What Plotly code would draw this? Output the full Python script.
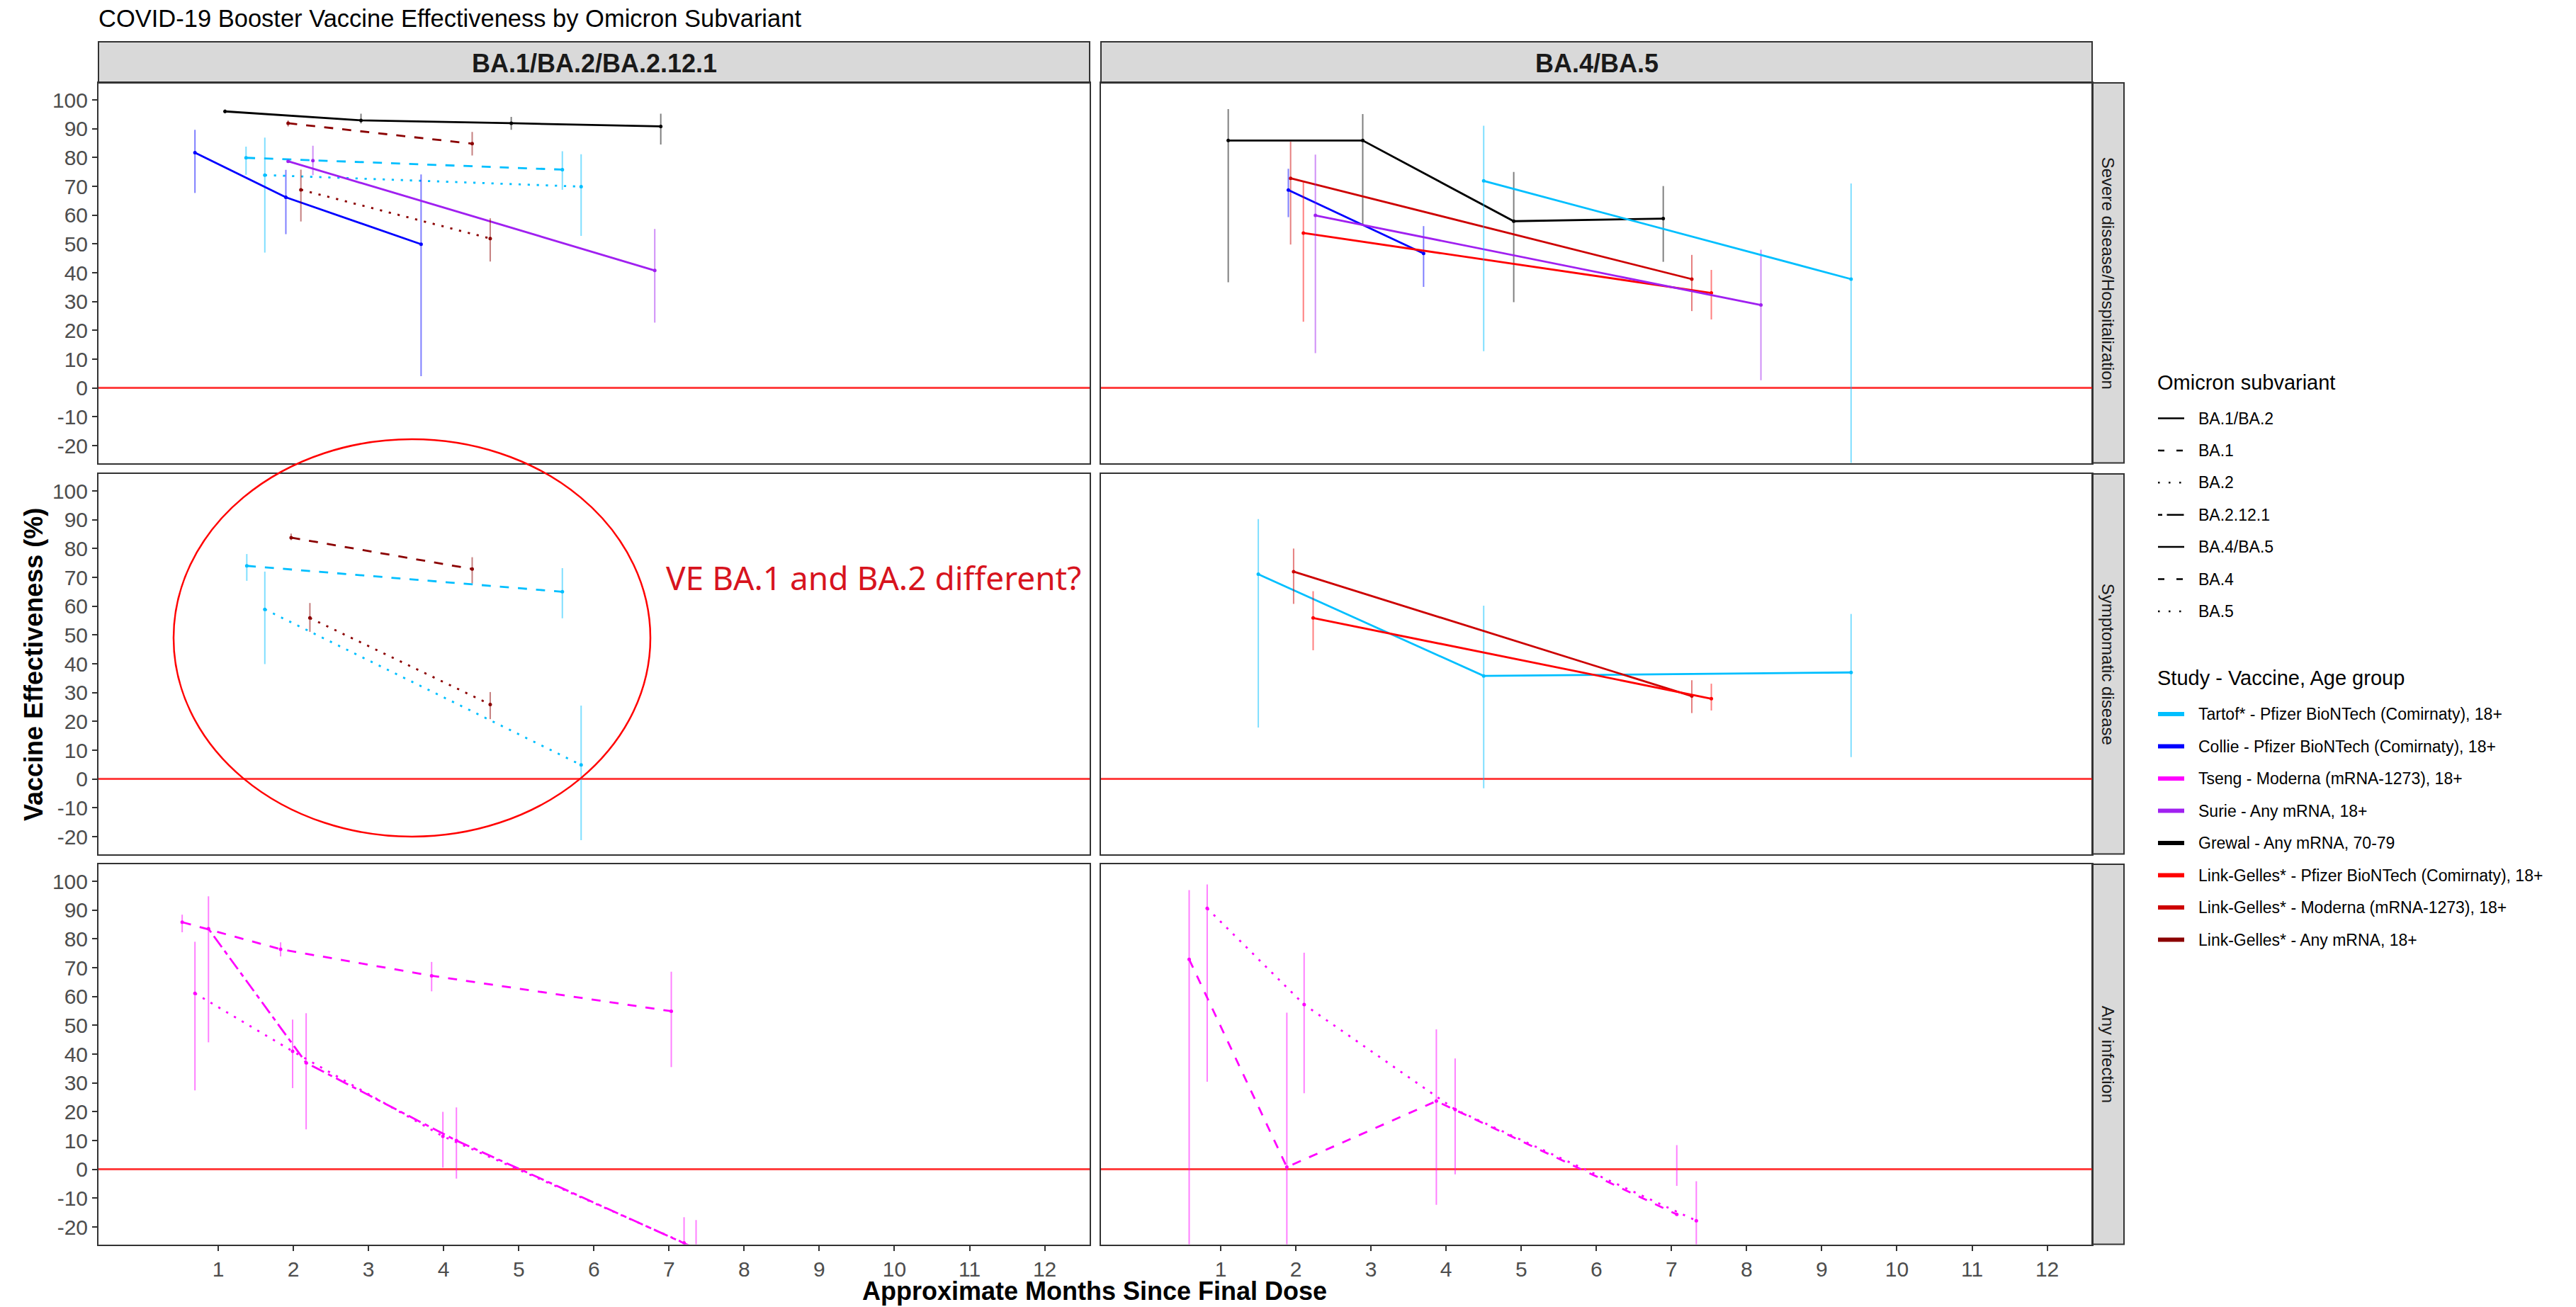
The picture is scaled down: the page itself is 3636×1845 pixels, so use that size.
import plotly.graph_objects as go

W, H = 3636, 1845

# ---------------- categories / labels ----------------
TITLE = "COVID-19 Booster Vaccine Effectiveness by Omicron Subvariant"
ROW_LABELS = ["Severe disease/Hospitalization", "Symptomatic disease", "Any infection"]
COL_LABELS = ["BA.1/BA.2/BA.2.12.1", "BA.4/BA.5"]
SUBVARIANTS = ["BA.1/BA.2", "BA.1", "BA.2", "BA.2.12.1", "BA.4/BA.5", "BA.4", "BA.5"]
STUDIES = [
    "Tartof* - Pfizer BioNTech (Comirnaty), 18+",
    "Collie - Pfizer BioNTech (Comirnaty), 18+",
    "Tseng - Moderna (mRNA-1273), 18+",
    "Surie - Any mRNA, 18+",
    "Grewal - Any mRNA, 70-79",
    "Link-Gelles* - Pfizer BioNTech (Comirnaty), 18+",
    "Link-Gelles* - Moderna (mRNA-1273), 18+",
    "Link-Gelles* - Any mRNA, 18+",
]
STUDY_COLORS = ["#00BFFF", "#0000FF", "#FF00FF", "#A020F0", "#000000", "#FF0000", "#CD0000", "#8B0000"]
X_TICKS = list(range(1, 13))
Y_TICKS = list(range(-20, 101, 10))
X_TITLE = "Approximate Months Since Final Dose"
Y_TITLE = "Vaccine Effectiveness (%)"
NOTE = "VE BA.1 and BA.2 different?"

# ---------------- data: Severe disease, BA.1/BA.2/BA.2.12.1 ----------------
sev1_grewal_x = [1.09, 2.90, 4.90, 6.89]
sev1_grewal_ve = [96.0, 92.9, 91.9, 90.8]
sev1_grewal_lo = [95.3, 91.8, 89.6, 84.5]
sev1_grewal_hi = [96.7, 95.2, 94.1, 95.2]

sev1_lgany_ba1_x = [1.93, 4.38]
sev1_lgany_ba1_ve = [91.9, 84.8]
sev1_lgany_ba1_lo = [90.8, 80.7]
sev1_lgany_ba1_hi = [92.9, 88.9]

sev1_tartof_ba1_x = [1.37, 5.58]
sev1_tartof_ba1_ve = [79.9, 75.8]
sev1_tartof_ba1_lo = [74.0, 68.8]
sev1_tartof_ba1_hi = [83.8, 82.2]

sev1_tartof_ba2_x = [1.62, 5.83]
sev1_tartof_ba2_ve = [73.9, 69.9]
sev1_tartof_ba2_lo = [47.0, 52.8]
sev1_tartof_ba2_hi = [86.9, 81.1]

sev1_collie_x = [0.69, 1.90, 3.70]
sev1_collie_ve = [81.7, 66.2, 49.9]
sev1_collie_lo = [67.7, 53.4, 4.1]
sev1_collie_hi = [89.6, 75.7, 74.1]

sev1_surie_x = [1.93, 6.81]
sev1_surie_ve = [78.7, 40.8]
sev1_surie_lo = [78.7, 22.7]
sev1_surie_hi = [78.7, 55.2]

sev1_surie_b_x = [2.26]
sev1_surie_b_ve = [78.9]
sev1_surie_b_lo = [73.9]
sev1_surie_b_hi = [84.1]

sev1_lgany_ba2_x = [2.10, 4.62]
sev1_lgany_ba2_ve = [68.8, 51.9]
sev1_lgany_ba2_lo = [57.8, 43.9]
sev1_lgany_ba2_hi = [75.8, 58.9]

# ---------------- data: Severe disease, BA.4/BA.5 ----------------
sev2_grewal_x = [1.10, 2.89, 4.90, 6.89]
sev2_grewal_ve = [85.9, 85.9, 57.9, 58.8]
sev2_grewal_lo = [36.7, 56.8, 29.8, 43.8]
sev2_grewal_hi = [96.8, 95.1, 75.0, 70.1]

sev2_lgmod_x = [1.93, 7.27]
sev2_lgmod_ve = [72.8, 37.8]
sev2_lgmod_lo = [49.8, 26.7]
sev2_lgmod_hi = [85.5, 46.2]

sev2_collie_x = [1.90, 3.70]
sev2_collie_ve = [68.7, 46.7]
sev2_collie_lo = [59.3, 35.1]
sev2_collie_hi = [76.1, 56.2]

sev2_lgpfz_x = [2.10, 7.53]
sev2_lgpfz_ve = [53.8, 33.0]
sev2_lgpfz_lo = [23.0, 23.8]
sev2_lgpfz_hi = [71.6, 41.0]

sev2_surie_x = [2.26, 8.19]
sev2_surie_ve = [59.9, 28.8]
sev2_surie_lo = [12.1, 2.7]
sev2_surie_hi = [81.0, 48.0]

sev2_tartof_x = [4.50, 9.39]
sev2_tartof_ve = [71.9, 37.8]
sev2_tartof_lo = [12.8, -40.0]
sev2_tartof_hi = [91.0, 71.0]

# ---------------- data: Symptomatic disease, BA.1/BA.2/BA.2.12.1 ----------------
sym1_lgany_ba1_x = [1.97, 4.38]
sym1_lgany_ba1_ve = [83.8, 72.9]
sym1_lgany_ba1_lo = [82.9, 67.9]
sym1_lgany_ba1_hi = [85.2, 77.0]

sym1_tartof_ba1_x = [1.38, 5.58]
sym1_tartof_ba1_ve = [74.0, 65.0]
sym1_tartof_ba1_lo = [68.8, 55.8]
sym1_tartof_ba1_hi = [78.1, 73.2]

sym1_tartof_ba2_x = [1.62, 5.83]
sym1_tartof_ba2_ve = [58.9, 4.9]
sym1_tartof_ba2_lo = [39.9, -21.2]
sym1_tartof_ba2_hi = [72.0, 25.5]

sym1_lgany_ba2_x = [2.22, 4.62]
sym1_lgany_ba2_ve = [55.9, 25.9]
sym1_lgany_ba2_lo = [51.1, 20.8]
sym1_lgany_ba2_hi = [61.1, 30.2]

# ---------------- data: Symptomatic disease, BA.4/BA.5 ----------------
sym2_tartof_x = [1.50, 4.50, 9.39]
sym2_tartof_ve = [71.1, 35.8, 37.0]
sym2_tartof_lo = [17.9, -3.2, 7.6]
sym2_tartof_hi = [90.2, 60.2, 57.3]

sym2_lgmod_x = [1.97, 7.27]
sym2_lgmod_ve = [72.0, 28.8]
sym2_lgmod_lo = [60.8, 22.9]
sym2_lgmod_hi = [80.0, 34.3]

sym2_lgpfz_x = [2.23, 7.53]
sym2_lgpfz_ve = [55.9, 27.9]
sym2_lgpfz_lo = [44.7, 23.8]
sym2_lgpfz_hi = [65.2, 33.1]

# ---------------- data: Any infection, BA.1/BA.2/BA.2.12.1 ----------------
inf1_tseng_ba1_x = [0.52, 1.83, 3.84, 7.03]
inf1_tseng_ba1_ve = [85.8, 76.4, 67.2, 54.9]
inf1_tseng_ba1_lo = [82.3, 73.9, 61.8, 35.5]
inf1_tseng_ba1_hi = [88.4, 78.8, 72.0, 68.6]

inf1_tseng_ba2_x = [0.69, 1.99, 3.99, 7.20]
inf1_tseng_ba2_ve = [61.1, 41.0, 11.5, -25.5]
inf1_tseng_ba2_lo = [27.4, 28.2, 0.6, -40.0]
inf1_tseng_ba2_hi = [79.0, 52.0, 20.0, -16.6]

inf1_tseng_ba2121_x = [0.87, 2.17, 4.17, 7.36]
inf1_tseng_ba2121_ve = [83.5, 37.0, 10.0, -27.5]
inf1_tseng_ba2121_lo = [44.1, 13.9, -3.2, -40.0]
inf1_tseng_ba2121_hi = [94.8, 54.2, 21.5, -17.6]

# ---------------- data: Any infection, BA.4/BA.5 ----------------
inf2_tseng_ba4_x = [0.58, 1.88, 3.87, 7.07]
inf2_tseng_ba4_ve = [72.9, 0.8, 23.7, -15.6]
inf2_tseng_ba4_lo = [-40.0, -40.0, -12.3, -5.7]
inf2_tseng_ba4_hi = [96.9, 54.4, 48.6, 8.4]

inf2_tseng_ba5_x = [0.82, 2.11, 4.12, 7.33]
inf2_tseng_ba5_ve = [90.6, 57.2, 20.8, -17.8]
inf2_tseng_ba5_lo = [30.4, 26.4, -1.7, -40.0]
inf2_tseng_ba5_hi = [98.9, 75.2, 38.5, -4.1]

# (row, col, study index, subvariant, x, ve, lo, hi)
SERIES = [
    (0, 0, 4, "BA.1/BA.2", sev1_grewal_x, sev1_grewal_ve, sev1_grewal_lo, sev1_grewal_hi),
    (0, 0, 7, "BA.1", sev1_lgany_ba1_x, sev1_lgany_ba1_ve, sev1_lgany_ba1_lo, sev1_lgany_ba1_hi),
    (0, 0, 0, "BA.1", sev1_tartof_ba1_x, sev1_tartof_ba1_ve, sev1_tartof_ba1_lo, sev1_tartof_ba1_hi),
    (0, 0, 0, "BA.2", sev1_tartof_ba2_x, sev1_tartof_ba2_ve, sev1_tartof_ba2_lo, sev1_tartof_ba2_hi),
    (0, 0, 1, "BA.1/BA.2", sev1_collie_x, sev1_collie_ve, sev1_collie_lo, sev1_collie_hi),
    (0, 0, 3, "BA.1/BA.2", sev1_surie_x, sev1_surie_ve, sev1_surie_lo, sev1_surie_hi),
    (0, 0, 3, "BA.2.12.1", sev1_surie_b_x, sev1_surie_b_ve, sev1_surie_b_lo, sev1_surie_b_hi),
    (0, 0, 7, "BA.2", sev1_lgany_ba2_x, sev1_lgany_ba2_ve, sev1_lgany_ba2_lo, sev1_lgany_ba2_hi),
    (0, 1, 4, "BA.4/BA.5", sev2_grewal_x, sev2_grewal_ve, sev2_grewal_lo, sev2_grewal_hi),
    (0, 1, 6, "BA.4/BA.5", sev2_lgmod_x, sev2_lgmod_ve, sev2_lgmod_lo, sev2_lgmod_hi),
    (0, 1, 1, "BA.4/BA.5", sev2_collie_x, sev2_collie_ve, sev2_collie_lo, sev2_collie_hi),
    (0, 1, 5, "BA.4/BA.5", sev2_lgpfz_x, sev2_lgpfz_ve, sev2_lgpfz_lo, sev2_lgpfz_hi),
    (0, 1, 3, "BA.4/BA.5", sev2_surie_x, sev2_surie_ve, sev2_surie_lo, sev2_surie_hi),
    (0, 1, 0, "BA.4/BA.5", sev2_tartof_x, sev2_tartof_ve, sev2_tartof_lo, sev2_tartof_hi),
    (1, 0, 7, "BA.1", sym1_lgany_ba1_x, sym1_lgany_ba1_ve, sym1_lgany_ba1_lo, sym1_lgany_ba1_hi),
    (1, 0, 0, "BA.1", sym1_tartof_ba1_x, sym1_tartof_ba1_ve, sym1_tartof_ba1_lo, sym1_tartof_ba1_hi),
    (1, 0, 0, "BA.2", sym1_tartof_ba2_x, sym1_tartof_ba2_ve, sym1_tartof_ba2_lo, sym1_tartof_ba2_hi),
    (1, 0, 7, "BA.2", sym1_lgany_ba2_x, sym1_lgany_ba2_ve, sym1_lgany_ba2_lo, sym1_lgany_ba2_hi),
    (1, 1, 0, "BA.4/BA.5", sym2_tartof_x, sym2_tartof_ve, sym2_tartof_lo, sym2_tartof_hi),
    (1, 1, 6, "BA.4/BA.5", sym2_lgmod_x, sym2_lgmod_ve, sym2_lgmod_lo, sym2_lgmod_hi),
    (1, 1, 5, "BA.4/BA.5", sym2_lgpfz_x, sym2_lgpfz_ve, sym2_lgpfz_lo, sym2_lgpfz_hi),
    (2, 0, 2, "BA.1", inf1_tseng_ba1_x, inf1_tseng_ba1_ve, inf1_tseng_ba1_lo, inf1_tseng_ba1_hi),
    (2, 0, 2, "BA.2", inf1_tseng_ba2_x, inf1_tseng_ba2_ve, inf1_tseng_ba2_lo, inf1_tseng_ba2_hi),
    (2, 0, 2, "BA.2.12.1", inf1_tseng_ba2121_x, inf1_tseng_ba2121_ve, inf1_tseng_ba2121_lo, inf1_tseng_ba2121_hi),
    (2, 1, 2, "BA.4", inf2_tseng_ba4_x, inf2_tseng_ba4_ve, inf2_tseng_ba4_lo, inf2_tseng_ba4_hi),
    (2, 1, 2, "BA.5", inf2_tseng_ba5_x, inf2_tseng_ba5_ve, inf2_tseng_ba5_lo, inf2_tseng_ba5_hi),
]

# ---------------- styles ----------------
U = 3.2
PLOT_DASH = {
    "BA.1/BA.2": "solid",
    "BA.1": f"{4*U}px,{4*U}px",
    "BA.2": f"{U}px,{3*U}px",
    "BA.2.12.1": f"{2*U}px,{2*U}px,{6*U}px,{2*U}px",
    "BA.4/BA.5": "solid",
    "BA.4": f"{4*U}px,{4*U}px",
    "BA.5": f"{U}px,{3*U}px",
}
KEY_DASH = {
    "BA.1/BA.2": "solid",
    "BA.1": "9px,17px",
    "BA.2": "2.5px,12.5px",
    "BA.2.12.1": "6px,6.5px,24px,10px",
    "BA.4/BA.5": "solid",
    "BA.4": "9px,17px",
    "BA.5": "2.5px,12.5px",
}
FONT = "Liberation Sans, Arial, sans-serif"
STRIP_FILL = "#D9D9D9"
BORDER = "#333333"

COL_PX = [(139, 1538), (1554, 2953)]
ROW_PX = [(117, 653.5), (669, 1205.5), (1220, 1756.5)]
X_RANGE = [-0.594, 12.598]
Y_RANGE = [-26.0, 105.9]


def px(x):
    return x / W


def py(y):
    return 1 - y / H


def rgba(hexc, a):
    h = hexc.lstrip("#")
    r, g, b = int(h[0:2], 16), int(h[2:4], 16), int(h[4:6], 16)
    return f"rgba({r},{g},{b},{a})"


fig = go.Figure()

for (r, c, si, sv, xs, ve, lo, hi) in SERIES:
    k = r * 2 + c + 1
    col = STUDY_COLORS[si]
    fig.add_trace(go.Scatter(
        x=xs, y=ve,
        mode="lines+markers",
        line=dict(color=col, width=2.8, dash=PLOT_DASH[sv]),
        marker=dict(color=col, size=5),
        error_y=dict(type="data", symmetric=False,
                     array=[h - v for h, v in zip(hi, ve)],
                     arrayminus=[v - l for v, l in zip(ve, lo)],
                     color=rgba(col, 0.5), thickness=2, width=0),
        xaxis="x" if k == 1 else f"x{k}",
        yaxis="y" if k == 1 else f"y{k}",
        showlegend=False, hoverinfo="skip",
    ))

layout = dict(
    width=W, height=H, autosize=False,
    margin=dict(l=0, r=0, t=0, b=0, pad=0),
    paper_bgcolor="white", plot_bgcolor="white",
    showlegend=False,
    font=dict(family=FONT, color="#000000"),
)

for r in range(3):
    for c in range(2):
        k = r * 2 + c + 1
        xs = "" if k == 1 else str(k)
        x0, x1 = COL_PX[c]
        y0, y1 = ROW_PX[r]
        layout["xaxis" + xs] = dict(
            domain=[px(x0), px(x1)], range=X_RANGE, anchor="y" + xs,
            tickvals=X_TICKS, ticktext=[str(t) for t in X_TICKS],
            showticklabels=(r == 2), ticks="outside" if r == 2 else "",
            ticklen=7, tickwidth=2, tickcolor=BORDER,
            tickfont=dict(family=FONT, size=30, color="#4D4D4D"),
            showgrid=False, zeroline=False,
            showline=True, mirror=True, linecolor=BORDER, linewidth=2,
        )
        layout["yaxis" + xs] = dict(
            domain=[py(y1), py(y0)], range=Y_RANGE, anchor="x" + xs,
            tickvals=Y_TICKS, ticktext=[str(t) for t in Y_TICKS],
            showticklabels=(c == 0), ticks="outside" if c == 0 else "",
            ticklen=7, tickwidth=2, tickcolor=BORDER,
            tickfont=dict(family=FONT, size=30, color="#4D4D4D"),
            showgrid=False,
            zeroline=True, zerolinecolor="rgba(255,0,0,0.75)", zerolinewidth=2.5,
            showline=True, mirror=True, linecolor=BORDER, linewidth=2,
        )

shapes = []
annotations = []

# top strips
for c, lab in enumerate(COL_LABELS):
    x0, x1 = COL_PX[c]
    shapes.append(dict(type="rect", xref="paper", yref="paper",
                       x0=px(x0), x1=px(x1), y0=py(117), y1=py(59),
                       fillcolor=STRIP_FILL, line=dict(color=BORDER, width=2), layer="below"))
    annotations.append(dict(xref="paper", yref="paper", x=px((x0 + x1) / 2), y=py(89),
                            text=f"<b>{lab}</b>", showarrow=False, xanchor="center", yanchor="middle",
                            font=dict(family=FONT, size=36, color="#1A1A1A")))
# right strips
for r, lab in enumerate(ROW_LABELS):
    y0, y1 = ROW_PX[r]
    shapes.append(dict(type="rect", xref="paper", yref="paper",
                       x0=px(2953), x1=px(2998), y0=py(y1), y1=py(y0),
                       fillcolor=STRIP_FILL, line=dict(color=BORDER, width=2), layer="below"))
    annotations.append(dict(xref="paper", yref="paper", x=px(2975.5), y=py((y0 + y1) / 2),
                            text=lab, showarrow=False, textangle=90,
                            xanchor="center", yanchor="middle",
                            font=dict(family=FONT, size=24, color="#1A1A1A")))

# title and axis titles
annotations.append(dict(xref="paper", yref="paper", x=px(137), y=py(26), text=TITLE,
                        showarrow=False, xanchor="left", yanchor="middle",
                        font=dict(family=FONT, size=34.5, color="#000000")))
annotations.append(dict(xref="paper", yref="paper", x=px(1545), y=py(1822), text=f"<b>{X_TITLE}</b>",
                        showarrow=False, xanchor="center", yanchor="middle",
                        font=dict(family=FONT, size=36, color="#000000")))
annotations.append(dict(xref="paper", yref="paper", x=px(48), y=py(938), text=f"<b>{Y_TITLE}</b>",
                        showarrow=False, textangle=-90, xanchor="center", yanchor="middle",
                        font=dict(family=FONT, size=36, color="#000000")))

# highlight ellipse and note
shapes.append(dict(type="circle", xref="paper", yref="paper",
                   x0=px(245), x1=px(918), y0=py(1181), y1=py(620),
                   line=dict(color="#FF0000", width=2.5), layer="above"))
annotations.append(dict(xref="paper", yref="paper", x=px(938), y=py(815), text=NOTE,
                        showarrow=False, xanchor="left", yanchor="middle",
                        font=dict(family="Noto Sans, sans-serif", size=46, color="#D7141E")))

# legends (drawn manually)
annotations.append(dict(xref="paper", yref="paper", x=px(3043), y=py(540), text="Omicron subvariant",
                        showarrow=False, xanchor="left", yanchor="middle",
                        font=dict(family=FONT, size=29, color="#000000")))
for i, sv in enumerate(SUBVARIANTS):
    yy = 590.5 + 45.4 * i
    shapes.append(dict(type="line", xref="paper", yref="paper",
                       x0=px(3046), x1=px(3083), y0=py(yy), y1=py(yy),
                       line=dict(color="#000000", width=2.5, dash=KEY_DASH[sv])))
    annotations.append(dict(xref="paper", yref="paper", x=px(3101), y=py(yy), text=sv,
                            showarrow=False, xanchor="left", yanchor="middle",
                            font=dict(family=FONT, size=23, color="#000000")))

annotations.append(dict(xref="paper", yref="paper", x=px(3043), y=py(957), text="Study - Vaccine, Age group",
                        showarrow=False, xanchor="left", yanchor="middle",
                        font=dict(family=FONT, size=29, color="#000000")))
for i, st in enumerate(STUDIES):
    yy = 1008 + 45.5 * i
    shapes.append(dict(type="line", xref="paper", yref="paper",
                       x0=px(3046), x1=px(3083), y0=py(yy), y1=py(yy),
                       line=dict(color=STUDY_COLORS[i], width=6)))
    annotations.append(dict(xref="paper", yref="paper", x=px(3101), y=py(yy), text=st,
                            showarrow=False, xanchor="left", yanchor="middle",
                            font=dict(family=FONT, size=23, color="#000000")))

layout["shapes"] = shapes
layout["annotations"] = annotations
fig.update_layout(**layout)

fig.write_html(
    "out.html",
    config={"displayModeBar": False},
    post_script="document.body.style.margin='0px';document.body.style.padding='0px';"
                "document.body.style.overflow='hidden';",
)
